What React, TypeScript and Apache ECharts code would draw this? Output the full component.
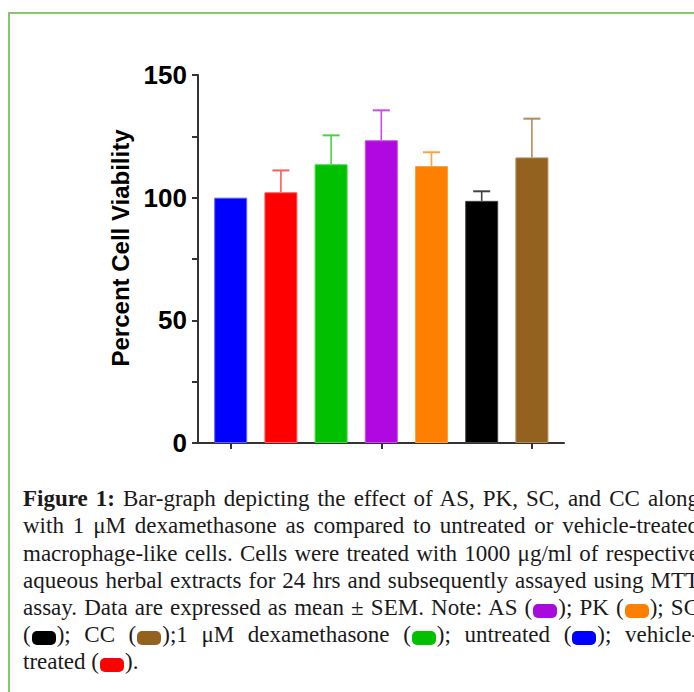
import React, { useEffect, useRef } from "react";
import * as echarts from "echarts";

const categories = ["Untreated", "Vehicle-treated", "1 µM dexamethasone", "AS", "PK", "SC", "CC"];
const meanValues = [100, 102.2, 113.6, 123.4, 112.9, 98.7, 116.4];
const semValues = [0, 8.9, 11.8, 12.2, 5.6, 3.9, 15.8];
const barColors = ["#0000ff", "#ff0000", "#00c000", "#b008e0", "#ff8000", "#000000", "#94621f"];
const errorColors = ["#6060ff", "#ff5a5a", "#44d444", "#c84af0", "#ffa040", "#444444", "#b08a58"];
const yLabelTicks = [0, 50, 100, 150];
const yAxisTitle = "Percent Cell Viability";

const swatch = (color: string) => (
  <span
    style={{
      display: "inline-block",
      width: 24,
      height: 14,
      borderRadius: 5,
      background: color,
      verticalAlign: "-3px",
      filter: "blur(0.7px)",
      margin: "0 1px",
    }}
  />
);

export default function App() {
  const ref = useRef<HTMLDivElement>(null);
  useEffect(() => {
    if (!ref.current) return;
    const chart = echarts.init(ref.current, undefined, { renderer: "svg" });
    const axisColor = "#333";
    chart.setOption({
      animation: false,
      grid: [
        { left: 205.6, width: 351.4, top: 75, height: 368 },
        { left: 198, width: 366, top: 75, height: 368 },
      ],
      xAxis: [
        {
          type: "category",
          gridIndex: 0,
          data: categories,
          axisLine: { show: false },
          axisTick: { show: true, alignWithLabel: true, length: 6, lineStyle: { color: axisColor, width: 2 } },
          axisLabel: { show: false },
          splitLine: { show: false },
        },
        {
          type: "value",
          gridIndex: 1,
          min: 0,
          max: 1,
          axisLine: { show: true, lineStyle: { color: axisColor, width: 2 } },
          axisTick: { show: false },
          axisLabel: { show: false },
          splitLine: { show: false },
        },
      ],
      yAxis: [
        { type: "value", gridIndex: 0, min: 0, max: 150, show: false },
        {
          type: "value",
          gridIndex: 1,
          min: 0,
          max: 150,
          interval: 25,
          axisLine: { show: true, lineStyle: { color: axisColor, width: 2 } },
          axisTick: { show: true, length: 6, lineStyle: { color: axisColor, width: 2 } },
          axisLabel: {
            formatter: (v: number) => (yLabelTicks.includes(v) ? String(v) : ""),
            fontSize: 26,
            fontWeight: "bold",
            fontFamily: "'Liberation Sans', Arial, sans-serif",
            color: "#000",
            margin: 11,
          },
          splitLine: { show: false },
          name: yAxisTitle,
          nameLocation: "middle",
          nameGap: 63,
          nameTextStyle: {
            fontSize: 24,
            fontWeight: "bold",
            fontFamily: "'Liberation Sans', Arial, sans-serif",
            color: "#000",
            padding: [0, 0, 0, 22],
          },
        },
      ],
      series: [
        {
          type: "bar",
          xAxisIndex: 0,
          yAxisIndex: 0,
          barWidth: 33,
          z: 2,
          data: meanValues.map((v, i) => ({
            value: v,
            itemStyle: { color: barColors[i], borderColor: errorColors[i], borderWidth: 1 },
          })),
        },
        {
          type: "custom",
          xAxisIndex: 0,
          yAxisIndex: 0,
          z: 3,
          data: meanValues.map((v, i) => [i, v, v + semValues[i]]),
          renderItem: (params: any, api: any) => {
            const i = api.value(0);
            if (semValues[i] <= 0) return { type: "group", children: [] };
            const top = api.coord([i, api.value(2)]);
            const base = api.coord([i, api.value(1)]);
            const c = errorColors[i];
            return {
              type: "group",
              children: [
                { type: "line", shape: { x1: top[0], y1: top[1], x2: base[0], y2: base[1] }, style: { stroke: c, lineWidth: 1.6 } },
                { type: "line", shape: { x1: top[0] - 8.5, y1: top[1], x2: top[0] + 8.5, y2: top[1] }, style: { stroke: c, lineWidth: 2 } },
              ],
            };
          },
        },
      ],
    });
    return () => chart.dispose();
  }, []);

  const lineStyle: React.CSSProperties = {
    textAlign: "justify",
    textAlignLast: "justify",
    whiteSpace: "nowrap",
    height: 27.1,
  };

  return (
    <div style={{ position: "fixed", left: 0, top: 0, width: 694, height: 692, overflow: "hidden", background: "#fff" }}>
      <div
        style={{
          position: "absolute",
          left: 8,
          top: 12,
          width: 900,
          height: 900,
          borderLeft: "2px solid #8ac46e",
          borderTop: "2px solid #8ac46e",
        }}
      />
      <div ref={ref} style={{ position: "absolute", left: 0, top: 0, width: 694, height: 470 }} />
      <div
        style={{
          position: "absolute",
          left: 23,
          top: 485.4,
          width: 676,
          fontFamily: "'Liberation Serif', 'Times New Roman', serif",
          fontSize: 23,
          lineHeight: "27.1px",
          color: "#1a1a1a",
        }}
      >
        <div style={lineStyle}>
          <b>Figure 1:</b> Bar-graph depicting the effect of AS, PK, SC, and CC along
        </div>
        <div style={lineStyle}>with 1 μM dexamethasone as compared to untreated or vehicle-treated</div>
        <div style={lineStyle}>macrophage-like cells. Cells were treated with 1000 μg/ml of respective</div>
        <div style={lineStyle}>aqueous herbal extracts for 24 hrs and subsequently assayed using MTT</div>
        <div style={lineStyle}>
          assay. Data are expressed as mean ± SEM. Note: AS ({swatch("#a90bdc")}); PK ({swatch("#ff8000")}); SC
        </div>
        <div style={lineStyle}>
          ({swatch("#000000")}); CC ({swatch("#94621f")});1 μM dexamethasone ({swatch("#00c000")}); untreated ({swatch("#0000ff")}); vehicle-
        </div>
        <div style={{ height: 27.1, whiteSpace: "nowrap" }}>treated ({swatch("#ff0000")}).</div>
      </div>
    </div>
  );
}
